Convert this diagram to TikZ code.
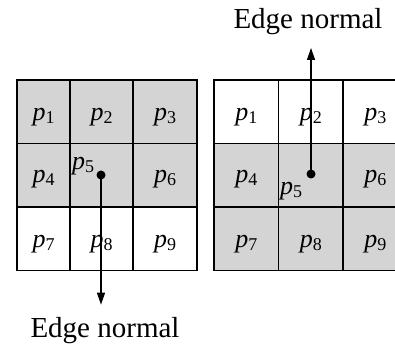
\documentclass[tikz,border=0pt]{standalone}
\usepackage{fontspec}
\setmainfont{Liberation Serif}
\usetikzlibrary{arrows.meta}
\newcommand\plab[1]{\fontsize{26}{26}\selectfont\textit{p}\raisebox{-3pt}{\fontsize{18}{18}\selectfont #1}}
\begin{document}
\begin{tikzpicture}[x=1pt,y=-1pt,
  cell/.style={draw, line width=1.2pt, minimum width=#1, minimum height=63.5pt, inner sep=0pt, outer sep=0pt},
  shaded/.style={fill=black!17},
  plabel/.style={anchor=base, inner sep=0pt},
  dot/.style={circle, fill=black, inner sep=0pt, minimum size=9pt},
  title/.style={anchor=base, inner sep=0pt, font=\fontsize{29}{29}\selectfont},
  normal/.style={line width=1.3pt, -{Triangle[length=12pt,width=8pt]}},
  frame/.style={draw, line width=1.6pt}]
\useasboundingbox (0,0) rectangle (395,344);
\clip (0,0) rectangle (395,344);
% left grid
\node[cell=53pt, shaded] (L1) at (43.5,111.75) {};
\node[cell=63pt, shaded] (L2) at (101.5,111.75) {};
\node[cell=64pt, shaded] (L3) at (165,111.75) {};
\node[cell=53pt, shaded] (L4) at (43.5,175.25) {};
\node[cell=63pt, shaded] (L5) at (101.5,175.25) {};
\node[cell=64pt, shaded] (L6) at (165,175.25) {};
\node[cell=53pt] (L7) at (43.5,238.75) {};
\node[cell=63pt] (L8) at (101.5,238.75) {};
\node[cell=64pt] (L9) at (165,238.75) {};
\draw[frame] (L1.north west) rectangle (L9.south east);
% right grid
\node[cell=64.5pt] (R1) at (246.25,111.75) {};
\node[cell=64.5pt] (R2) at (310.75,111.75) {};
\node[cell=64.5pt] (R3) at (375.25,111.75) {};
\node[cell=64.5pt, shaded] (R4) at (246.25,175.25) {};
\node[cell=64.5pt, shaded] (R5) at (310.75,175.25) {};
\node[cell=64.5pt, shaded] (R6) at (375.25,175.25) {};
\node[cell=64.5pt, shaded] (R7) at (246.25,238.75) {};
\node[cell=64.5pt, shaded] (R8) at (310.75,238.75) {};
\node[cell=64.5pt, shaded] (R9) at (375.25,238.75) {};
\draw[frame] (R1.north west) rectangle (R9.south east);
% labels left
\node[plabel] (lp1) at ([yshift=-41pt]L1.north) {\plab{1}};
\node[plabel] (lp2) at ([yshift=-41pt]L2.north) {\plab{2}};
\node[plabel] (lp3) at ([yshift=-41pt]L3.north) {\plab{3}};
\node[plabel] (lp4) at ([yshift=-39pt]L4.north) {\plab{4}};
\node[plabel, anchor=base west] (lp5) at (72,170) {\plab{5}};
\node[plabel] (lp6) at ([yshift=-39pt]L6.north) {\plab{6}};
\node[plabel] (lp7) at ([yshift=-40pt]L7.north) {\plab{7}};
\node[plabel] (lp8) at ([yshift=-40pt]L8.north) {\plab{8}};
\node[plabel] (lp9) at ([yshift=-40pt]L9.north) {\plab{9}};
% labels right
\node[plabel] (rp1) at ([yshift=-41pt]R1.north) {\plab{1}};
\node[plabel] (rp2) at ([yshift=-41pt]R2.north) {\plab{2}};
\node[plabel] (rp3) at ([yshift=-41pt]R3.north) {\plab{3}};
\node[plabel] (rp4) at ([yshift=-39pt]R4.north) {\plab{4}};
\node[plabel, anchor=base west] (rp5) at (280,195) {\plab{5}};
\node[plabel] (rp6) at ([yshift=-39pt]R6.north) {\plab{6}};
\node[plabel] (rp7) at ([yshift=-40pt]R7.north) {\plab{7}};
\node[plabel] (rp8) at ([yshift=-40pt]R8.north) {\plab{8}};
\node[plabel] (rp9) at ([yshift=-40pt]R9.north) {\plab{9}};
% edge normals
\node[dot] (d1) at (101,175) {};
\node[dot] (d2) at (311,174) {};
\node[title] (e1) at (105,337) {Edge normal};
\node[title] (e2) at (308,29) {Edge normal};
\draw[normal, shorten >=12pt] (d1.center) -- (d1.center |- e1.north);
\draw[normal, shorten >=12.5pt] (d2.center) -- (d2.center |- e2.south);
\end{tikzpicture}
\end{document}
